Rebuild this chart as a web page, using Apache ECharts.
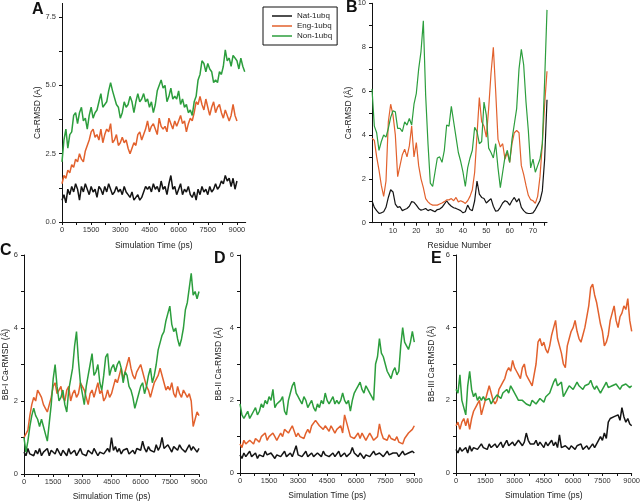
<!DOCTYPE html>
<html>
<head>
<meta charset="utf-8">
<script src="https://cdn.jsdelivr.net/npm/echarts@6/dist/echarts.min.js"></script>
<style>
html,body{margin:0;padding:0;background:#fff;}
#chart{width:640px;height:502px;}
</style>
</head>
<body>
<div id="chart"></div>
<script>
// ---- DATA ----
const STEP_PS = 100; // sampling interval of the time series (ps)
const SERIES_NAMES = ['Nat-1ubq', 'Eng-1ubq', 'Non-1ubq'];

// Panel A: Ca-RMSD vs time
const A_nat = [0.8,1.0,0.7,1.2,1.0,1.3,1.1,1.4,1.2,0.8,
  1.3,1.1,1.4,1.2,1.0,1.3,1.1,1.2,0.9,1.3,
  1.2,1.0,1.3,1.1,1.4,1.2,1.0,1.1,1.3,1.1,
  1.2,1.0,1.3,1.1,1.0,0.9,1.1,0.8,0.9,1.0,
  0.8,0.9,0.9,1.3,1.2,1.3,1.1,1.4,1.2,1.3,
  1.1,1.5,1.2,1.3,1.0,1.4,1.7,1.2,1.3,1.0,
  1.2,1.4,1.0,1.2,1.1,1.3,1.0,0.9,1.1,0.8,
  1.2,1.0,1.3,1.1,1.2,1.0,1.3,1.1,1.2,1.4,
  1.2,1.3,1.5,1.4,1.7,1.5,1.6,1.3,1.6,1.2,
  1.5];
const A_eng = [1.4,1.7,1.6,1.9,1.8,2.1,2.0,2.3,2.2,2.5,
  2.3,2.2,2.6,2.8,3.0,3.3,3.4,3.1,3.2,3.0,
  3.4,2.9,3.2,3.4,3.3,3.6,2.9,3.0,3.2,2.8,
  2.9,3.1,2.9,3.0,2.7,2.5,2.7,2.9,2.8,3.2,
  3.3,3.0,3.2,3.4,3.7,3.3,3.5,3.6,3.4,3.2,
  3.8,3.5,3.4,3.5,3.3,3.8,3.6,3.4,3.7,3.5,
  3.7,3.9,3.6,3.7,3.3,3.6,3.8,3.7,4.0,4.4,
  4.3,4.6,4.3,4.1,4.5,4.2,3.9,4.2,4.4,4.0,
  4.2,4.3,4.0,3.8,4.1,3.9,3.7,3.9,4.3,3.9,
  3.7];
const A_non = [2.2,3.0,3.4,2.7,3.2,3.3,3.9,4.0,3.6,4.0,
  4.2,3.7,3.8,3.4,3.9,4.2,3.8,4.0,4.1,4.4,
  4.7,4.2,4.3,4.4,4.8,5.1,4.8,4.8,4.3,4.2,
  3.8,4.0,4.4,4.2,4.3,4.6,4.4,4.0,4.4,4.7,
  4.4,4.5,4.7,4.4,4.5,4.2,4.4,4.0,4.3,4.8,
  4.8,5.2,4.9,5.0,4.4,4.6,4.9,4.5,4.6,4.5,
  4.8,4.3,4.5,4.2,4.3,4.0,4.1,3.9,4.4,4.6,
  5.2,5.4,5.9,5.8,5.5,5.8,5.6,5.5,5.1,5.2,
  5.1,5.5,5.4,5.7,6.3,5.9,6.0,5.7,6.1,6.0,
  5.9,5.6,6.0,5.7,5.5];

// Panel B: per-residue Ca-RMSD (residues 1..76)
const B_residues = [1,2,3,4,5,6,7,8,9,10,11,12,13,14,15,16,17,18,19,20,
  21,22,23,24,25,26,27,28,29,30,31,32,33,34,35,36,37,38,39,40,
  41,42,43,44,45,46,47,48,49,50,51,52,53,54,55,56,57,58,59,60,
  61,62,63,64,65,66,67,68,69,70,71,72,73,74,75,76];
const B_nat = [1.0,0.7,0.55,0.42,0.45,0.5,0.7,1.15,1.5,1.4,
  0.85,0.7,0.73,0.55,0.6,0.65,0.75,0.96,0.93,0.8,
  0.65,0.57,0.6,0.65,0.55,0.6,0.55,0.5,0.6,0.62,
  0.7,0.85,1.0,0.85,0.75,0.68,0.65,0.6,0.55,0.45,
  0.5,0.8,0.6,0.55,1.0,1.9,1.3,1.15,1.1,0.9,
  1.0,1.1,0.75,0.52,0.55,0.7,0.9,1.0,0.95,0.8,
  1.0,1.15,0.95,1.1,0.7,0.55,0.45,0.42,0.42,0.45,
  0.6,0.8,1.0,1.45,2.9,5.6];
const B_eng = [3.85,3.75,3.0,2.4,1.7,1.2,1.9,4.6,5.4,4.9,
  4.0,2.1,2.6,3.1,3.35,3.0,3.5,4.4,3.0,3.65,
  2.6,2.0,1.6,1.1,0.95,0.85,0.8,0.8,0.8,0.85,
  0.9,0.96,1.04,1.04,1.1,1.0,1.15,0.95,1.0,0.95,
  0.88,1.0,1.2,1.5,2.3,4.0,5.7,4.6,4.4,3.9,
  5.2,6.8,8.0,6.0,3.8,3.45,3.6,2.9,3.2,2.75,
  3.6,4.1,4.2,4.1,2.6,2.2,1.7,1.25,1.05,1.0,
  0.88,1.2,2.1,3.6,5.4,6.9];
const B_non = [6.1,4.4,4.1,3.3,3.7,4.0,3.9,4.3,4.8,5.1,
  5.05,4.3,4.3,4.15,4.6,4.45,4.75,4.45,5.4,5.9,
  7.0,7.8,9.2,5.8,3.6,1.8,1.65,2.3,2.95,3.0,
  2.75,3.3,4.45,4.4,5.3,4.6,3.9,3.2,2.8,2.3,
  1.65,2.5,2.95,3.3,4.35,4.15,3.6,3.7,5.5,4.9,
  3.4,3.2,2.95,3.6,2.5,1.6,2.3,3.0,3.3,2.75,
  3.8,4.5,5.2,7.0,7.9,7.2,5.5,4.2,2.5,2.9,
  2.3,2.6,2.9,3.6,6.5,9.7];

// Panel C: BB-I Ca-RMSD vs time
const C_nat = [0.6,0.5,0.7,0.55,0.6,0.5,0.65,0.55,0.7,0.5,
  0.6,0.55,0.7,0.5,0.65,0.6,0.55,0.7,0.6,0.5,
  0.65,0.6,0.5,0.7,0.55,0.6,0.65,0.5,0.6,0.7,
  0.55,0.6,0.5,0.65,0.6,0.55,0.7,0.6,0.5,0.6,
  0.65,0.55,0.6,0.7,0.6,1.0,0.65,0.75,0.6,0.7,
  0.55,0.65,0.6,0.7,0.55,0.6,0.65,0.55,0.7,0.75,
  0.65,0.9,0.7,0.6,0.75,0.65,0.7,0.6,0.8,0.65,
  0.75,1.0,0.7,0.65,0.8,0.7,0.6,0.75,0.7,0.65,
  0.8,0.7,0.75,0.6,0.7,0.8,0.65,0.75,0.7,0.6,
  0.7];
const C_eng = [1.0,1.1,1.2,1.6,1.9,2.1,2.0,2.3,2.2,2.1,
  1.9,1.8,1.7,1.9,2.1,2.4,2.5,2.2,2.3,2.4,
  2.1,2.0,2.3,2.4,2.0,2.2,2.3,2.1,2.2,2.5,
  2.4,2.3,2.1,1.9,2.2,2.3,2.1,2.3,2.5,2.2,
  2.3,2.0,2.1,2.3,2.1,2.2,2.4,2.6,2.5,2.7,
  2.9,2.6,2.8,3.0,3.2,2.9,2.7,2.6,2.8,2.9,
  3.0,2.8,2.6,2.4,2.3,2.1,2.3,2.5,2.6,2.7,
  2.9,2.7,2.5,2.3,2.4,2.3,2.5,2.2,2.1,2.4,
  2.2,2.1,2.3,2.2,2.1,2.2,2.0,1.3,1.5,1.7,
  1.6];
const C_non = [1.0,0.6,0.9,1.3,1.6,1.8,1.6,1.5,1.3,1.5,
  1.3,1.1,0.9,1.4,1.9,2.6,3.0,2.4,2.0,2.1,
  2.3,1.9,1.7,2.3,2.6,2.9,3.5,3.9,3.1,2.5,
  2.2,1.9,2.4,2.7,3.0,3.3,2.7,2.8,3.0,2.5,
  2.3,2.7,3.2,3.3,2.7,2.9,3.0,2.8,3.0,3.1,
  2.9,2.5,2.8,2.7,2.4,2.3,2.1,1.8,2.0,2.2,
  2.4,2.5,2.2,2.4,2.7,2.9,2.5,2.7,3.0,3.4,
  3.6,3.8,3.9,4.2,4.4,4.6,4.1,3.9,4.0,3.7,
  3.5,3.7,4.0,4.5,4.7,5.1,5.5,4.9,5.0,4.8,
  5.0];

// Panel D: BB-II Ca-RMSD vs time
const D_nat = [0.5,0.4,0.55,0.45,0.5,0.6,0.45,0.5,0.55,0.4,
  0.5,0.55,0.45,0.6,0.5,0.45,0.55,0.5,0.4,0.5,
  0.55,0.45,0.5,0.6,0.45,0.5,0.55,0.45,0.5,0.75,
  0.5,0.55,0.45,0.5,0.6,0.45,0.5,0.55,0.45,0.5,
  0.55,0.5,0.45,0.6,0.5,0.55,0.45,0.5,0.55,0.45,
  0.5,0.6,0.45,0.5,0.55,0.45,0.5,0.55,0.7,0.55,
  0.5,0.45,0.55,0.5,0.4,0.5,0.55,0.45,0.5,0.6,
  0.5,0.45,0.55,0.5,0.45,0.5,0.6,0.5,0.45,0.55,
  0.5,0.55,0.45,0.5,0.6,0.5,0.45,0.55,0.5,0.6,
  0.55];
const D_eng = [0.8,0.7,0.9,0.8,0.75,0.9,0.85,0.8,0.95,0.9,
  0.85,1.0,0.95,1.1,0.9,1.0,0.95,1.1,1.0,0.9,
  1.0,1.1,1.0,1.2,1.25,1.1,1.2,1.3,1.15,1.0,
  1.1,1.0,1.05,0.95,1.1,1.2,1.1,1.3,1.35,1.45,
  1.4,1.3,1.35,1.2,1.3,1.25,1.15,1.3,1.2,1.1,
  1.2,1.15,1.3,1.1,1.6,1.4,1.2,1.0,1.05,0.95,
  1.0,1.1,0.95,1.1,1.05,0.9,1.0,1.1,1.0,0.9,
  0.95,1.0,1.35,1.1,0.95,1.0,0.9,1.05,0.95,1.0,
  0.9,1.0,0.85,0.9,0.8,0.95,1.0,1.1,1.05,1.2,
  1.3];
const D_non = [1.9,1.6,1.5,1.6,1.7,1.5,1.6,1.7,1.8,1.6,
  1.7,1.9,1.8,2.0,1.9,2.1,2.0,2.3,1.8,1.9,
  1.9,2.0,2.1,1.7,1.6,2.0,2.2,2.4,2.5,2.2,
  2.1,2.0,1.9,2.1,2.0,1.8,1.9,2.0,1.8,1.7,
  1.9,1.8,2.0,1.9,2.2,2.0,1.9,2.0,2.1,1.9,
  2.0,1.9,2.0,2.2,2.0,1.9,2.0,1.7,2.0,2.2,
  2.3,2.4,2.5,2.3,2.2,2.4,2.3,2.2,2.1,2.0,
  3.0,3.2,3.7,3.3,3.2,3.0,2.8,2.7,2.6,2.8,
  2.9,2.7,2.8,3.5,4.0,3.6,3.5,3.4,3.6,3.9,
  3.6];

// Panel E: BB-III Ca-RMSD vs time
const E_nat = [0.65,0.55,0.7,0.6,0.65,0.7,0.55,0.75,0.6,0.7,
  0.75,0.65,0.7,0.8,0.7,0.75,0.65,0.8,0.7,0.75,
  0.8,0.7,0.75,0.85,0.7,0.8,0.9,0.75,0.8,0.85,
  0.75,0.8,0.9,0.85,0.75,0.85,1.1,0.9,0.8,0.85,
  0.8,0.9,0.75,0.85,0.8,0.7,0.85,0.75,0.8,0.9,
  0.75,0.85,0.7,1.05,0.7,0.65,0.75,0.7,0.65,0.75,
  0.7,0.65,0.75,0.7,0.8,0.65,0.7,0.75,0.65,0.7,
  0.8,0.7,0.75,0.9,1.0,0.9,1.1,0.95,1.4,1.5,
  1.45,1.55,1.5,1.6,1.45,1.8,1.55,1.4,1.5,1.35,
  1.3];
const E_eng = [1.3,1.4,1.2,1.4,1.5,1.3,1.5,1.2,1.5,1.7,
  1.8,1.9,2.0,1.6,1.6,2.0,2.2,2.4,2.2,2.0,
  1.9,2.0,2.3,2.4,2.5,2.6,2.8,2.9,2.8,3.1,
  2.9,2.8,2.7,2.6,2.9,3.0,2.7,2.6,2.5,2.4,
  2.7,3.0,3.6,3.7,3.5,3.6,3.4,3.3,3.5,3.8,
  4.0,4.2,3.7,3.5,3.3,3.0,2.9,3.5,3.7,3.9,
  4.0,4.2,3.9,3.7,3.6,3.8,4.0,4.3,4.6,5.1,
  5.2,4.9,4.7,4.4,4.1,3.9,3.5,3.6,3.8,4.2,
  4.4,4.6,4.2,4.0,4.3,4.4,4.6,4.5,4.8,4.2,
  3.9];
const E_non = [2.3,2.2,2.7,2.0,1.8,1.6,2.4,2.8,2.3,2.1,
  2.2,2.0,2.1,2.0,2.1,2.0,1.95,2.05,1.9,2.0,
  2.05,2.15,2.1,2.05,2.2,2.25,2.3,2.2,2.4,2.3,
  2.25,2.1,2.0,1.95,2.0,2.05,1.9,1.95,1.85,2.0,
  2.05,1.9,1.95,2.05,2.0,1.95,2.1,2.05,2.2,2.35,
  2.5,2.6,2.4,2.45,2.5,2.1,2.2,2.3,2.4,2.35,
  2.3,2.4,2.5,2.4,2.35,2.3,2.4,2.35,2.45,2.55,
  2.4,2.3,2.4,2.35,2.2,2.3,2.4,2.5,2.35,2.3,
  2.4,2.35,2.45,2.5,2.3,2.4,2.35,2.45,2.5,2.35,
  2.4];

// Tick labels / tick positions
const TIME_LABELS = [0,1500,3000,4500,6000,7500,9000];
const TIME_TICKS = [0,750,1500,2250,3000,3750,4500,5250,6000,6750,7500,8250,9000];
const A_Y_LABELS = [0,2.5,5,7.5];
const A_Y_TICKS = [0,1.25,2.5,3.75,5,6.25,7.5];
const B_X_LABELS = [10,20,30,40,50,60,70];
const B_X_TICKS = [5,10,15,20,25,30,35,40,45,50,55,60,65,70,75];
const B_Y_LABELS = [0,2,4,6,8,10];
const B_Y_TICKS = [0,1,2,3,4,5,6,7,8,9,10];
const BB_Y_LABELS = [0,2,4,6];
const BB_Y_TICKS = [0,1,2,3,4,5,6];

// ---- CHART ----
const COLORS = ['#141414', '#e2612d', '#2c9e3d'];
const FONT = "'Liberation Sans', Arial, sans-serif";

function timeData(vals) { return vals.map((v, i) => [i * STEP_PS, v]); }
function resData(vals) { return vals.map((v, i) => [B_residues[i], v]); }

function mkSeries(idx, k, data, width) {
  return {
    name: SERIES_NAMES[k], type: 'line', xAxisIndex: idx, yAxisIndex: idx,
    data: data, symbol: 'none', showSymbol: false, silent: true,
    lineStyle: { width: width, color: COLORS[k] }, itemStyle: { color: COLORS[k] },
    z: 2 + k
  };
}

function xAxis(gi, min, max, labels, ticks, name, nameGap, fmt) {
  return {
    type: 'value', gridIndex: gi, min: min, max: max,
    name: name, nameLocation: 'middle', nameGap: nameGap,
    nameTextStyle: { fontSize: 8.5, color: '#222', fontFamily: FONT },
    axisLine: { show: true, onZero: false, lineStyle: { color: '#111', width: 1 } },
    axisTick: { show: true, length: 3, customValues: ticks, lineStyle: { color: '#111' } },
    axisLabel: { customValues: labels, fontSize: 7.5, color: '#333', margin: 4, fontFamily: FONT,
      formatter: fmt || (v => String(v)) },
    splitLine: { show: false }
  };
}
function yAxis(gi, min, max, labels, ticks, name, nameGap, fmt) {
  return {
    type: 'value', gridIndex: gi, min: min, max: max,
    name: name, nameLocation: 'middle', nameGap: nameGap, nameRotate: 90,
    nameTextStyle: { fontSize: 8.5, color: '#222', fontFamily: FONT },
    axisLine: { show: true, onZero: false, lineStyle: { color: '#111', width: 1 } },
    axisTick: { show: true, length: 3, customValues: ticks, lineStyle: { color: '#111' } },
    axisLabel: { customValues: labels, fontSize: 7.5, color: '#333', margin: 6, fontFamily: FONT,
      formatter: fmt || (v => String(v)) },
    splitLine: { show: false }
  };
}

const chart = echarts.init(document.getElementById('chart'), null, { renderer: 'canvas' });
const TW = 1.5; // time-series line width
const RW = 1.2; // residue-profile line width

const option = {
  animation: false,
  backgroundColor: '#ffffff',
  textStyle: { fontFamily: FONT },
  legend: {
    data: SERIES_NAMES, orient: 'vertical', left: 263, top: 7,
    icon: 'rect', itemWidth: 20, itemHeight: 1.5, itemGap: 0,
    borderColor: '#111', borderWidth: 1, padding: [4, 5, 4, 9],
    textStyle: { fontSize: 8, color: '#222', lineHeight: 10, fontFamily: FONT },
    selectedMode: false
  },
  grid: [
    { left: 62, top: 3.4, width: 183.7, height: 218.6, outerBoundsMode: 'none' },
    { left: 372, top: 3.3, width: 175, height: 219.4, outerBoundsMode: 'none' },
    { left: 24, top: 255, width: 175, height: 219, outerBoundsMode: 'none' },
    { left: 240, top: 255, width: 174.3, height: 218, outerBoundsMode: 'none' },
    { left: 456, top: 255, width: 175.7, height: 218, outerBoundsMode: 'none' }
  ],
  xAxis: [
    xAxis(0, 0, 9450, TIME_LABELS, TIME_TICKS, 'Simulation Time (ps)', 19),
    xAxis(1, 1, 76, B_X_LABELS, B_X_TICKS, 'Residue Number', 18),
    xAxis(2, 0, 9000, TIME_LABELS, TIME_TICKS, 'Simulation Time (ps)', 18),
    xAxis(3, 0, 9000, TIME_LABELS, TIME_TICKS, 'Simulation Time (ps)', 18),
    xAxis(4, 0, 9000, TIME_LABELS, TIME_TICKS, 'Simulation Time (ps)', 18)
  ],
  yAxis: [
    yAxis(0, 0, 8, A_Y_LABELS, A_Y_TICKS, 'Ca-RMSD (A)', 18, v => v.toFixed(1)),
    yAxis(1, 0, 10, B_Y_LABELS, B_Y_TICKS, 'Ca-RMSD (Å)', 19),
    yAxis(2, 0, 6, BB_Y_LABELS, BB_Y_TICKS, 'BB-I Ca-RMSD (Å)', 13),
    yAxis(3, 0, 6, BB_Y_LABELS, BB_Y_TICKS, 'BB-II Ca-RMSD (Å)', 17),
    yAxis(4, 0, 6, BB_Y_LABELS, BB_Y_TICKS, 'BB-III Ca-RMSD (Å)', 20)
  ],
  graphic: [
    { type: 'text', left: 32, top: 2, style: { text: 'A', font: "bold 16px 'Liberation Sans', Arial", fill: '#111' } },
    { type: 'text', left: 346, top: 0, style: { text: 'B', font: "bold 16px 'Liberation Sans', Arial", fill: '#111' } },
    { type: 'text', left: 0, top: 243, style: { text: 'C', font: "bold 16px 'Liberation Sans', Arial", fill: '#111' } },
    { type: 'text', left: 214, top: 251, style: { text: 'D', font: "bold 16px 'Liberation Sans', Arial", fill: '#111' } },
    { type: 'text', left: 431, top: 251, style: { text: 'E', font: "bold 16px 'Liberation Sans', Arial", fill: '#111' } }
  ],
  series: [
    mkSeries(0, 0, timeData(A_nat), TW), mkSeries(0, 1, timeData(A_eng), TW), mkSeries(0, 2, timeData(A_non), TW),
    mkSeries(1, 0, resData(B_nat), RW), mkSeries(1, 1, resData(B_eng), RW), mkSeries(1, 2, resData(B_non), RW),
    mkSeries(2, 0, timeData(C_nat), TW), mkSeries(2, 1, timeData(C_eng), TW), mkSeries(2, 2, timeData(C_non), TW),
    mkSeries(3, 0, timeData(D_nat), TW), mkSeries(3, 1, timeData(D_eng), TW), mkSeries(3, 2, timeData(D_non), TW),
    mkSeries(4, 0, timeData(E_nat), TW), mkSeries(4, 1, timeData(E_eng), TW), mkSeries(4, 2, timeData(E_non), TW)
  ]
};
chart.setOption(option);
</script>
</body>
</html>
